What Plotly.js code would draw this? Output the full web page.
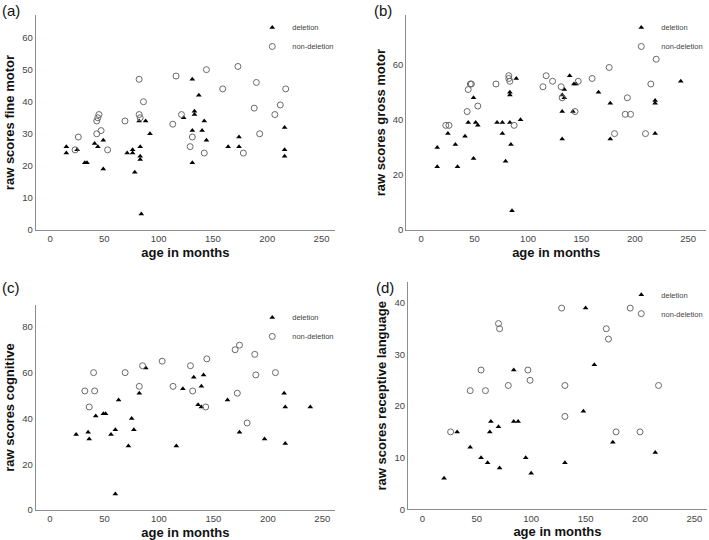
<!DOCTYPE html>
<html>
<head>
<meta charset="utf-8">
<script src="https://cdn.plot.ly/plotly-3.0.1.min.js"></script>
<style>
  html, body { margin: 0; padding: 0; background: #fff; }
  #chart { width: 709px; height: 540px; }
</style>
</head>
<body>
<div id="chart"></div>
<script>
// (a) fine motor
const fmDelAge   = [15, 15, 25, 32, 34, 41, 44, 49, 49, 71, 76, 76, 78, 82, 83, 83, 83, 84, 88, 92, 123, 131, 131, 131, 133, 133, 137, 140, 142, 144, 164, 174, 174, 216, 216, 216];
const fmDelScore = [26, 24, 25, 21, 21, 27, 26, 28, 19, 24, 25, 24, 18, 34, 26, 23, 22, 5, 34, 30, 35, 47, 31, 21, 37, 36, 42, 31, 34, 28, 26, 29, 26, 32, 25, 23];
const fmNonAge   = [23, 26, 43, 47, 43, 44, 45, 53, 69, 82, 82, 83, 86, 113, 116, 121, 129, 131, 142, 144, 159, 173, 178, 188, 190, 193, 207, 212, 217];
const fmNonScore = [25, 29, 30, 31, 34, 35, 36, 25, 34, 47, 36, 35, 40, 33, 48, 36, 26, 29, 24, 50, 44, 51, 24, 38, 46, 30, 36, 39, 44];

// (b) gross motor
const gmDelAge   = [15, 15, 25, 32, 34, 41, 44, 49, 49, 51, 53, 71, 76, 76, 79, 83, 83, 83, 84, 85, 89, 93, 132, 132, 132, 134, 134, 139, 143, 145, 142, 166, 177, 177, 219, 219, 219, 243];
const gmDelScore = [30, 23, 35, 31, 23, 34, 39, 48, 26, 39, 38, 39, 39, 35, 25, 50, 49, 39, 31, 7, 55, 40, 43, 49, 33, 51, 48, 56, 53, 53, 43, 50, 46, 33, 47, 46, 35, 54];
const gmNonAge   = [23, 26, 43, 44, 46, 47, 53, 70, 82, 82, 83, 87, 114, 117, 123, 131, 132, 144, 147, 160, 176, 181, 191, 196, 193, 210, 215, 220];
const gmNonScore = [38, 38, 43, 51, 53, 53, 45, 53, 56, 55, 54, 38, 52, 56, 54, 52, 48, 43, 54, 55, 59, 35, 42, 42, 48, 35, 53, 62];

// (c) cognitive
const cgDelAge   = [24, 35, 36, 42, 49, 51, 56, 60, 60, 63, 72, 75, 77, 82, 88, 116, 122, 132, 136, 139, 139, 141, 163, 174, 197, 215, 216, 216, 239];
const cgDelScore = [33, 34, 31, 41, 42, 42, 33, 35, 7, 48, 28, 40, 35, 51, 62, 28, 53, 58, 46, 54, 45, 59, 48, 34, 31, 51, 45, 29, 45];
const cgNonAge   = [32, 36, 40, 41, 69, 82, 85, 103, 113, 129, 131, 143, 144, 170, 172, 174, 181, 188, 189, 207];
const cgNonScore = [52, 45, 60, 52, 60, 54, 63, 65, 54, 63, 52, 45, 66, 70, 51, 72, 38, 68, 59, 60];

// (d) receptive language
const rlDelAge   = [20, 32, 44, 54, 60, 62, 63, 70, 71, 84, 84, 88, 95, 100, 131, 148, 150, 158, 175, 214];
const rlDelScore = [6, 15, 12, 10, 9, 15, 17, 16, 8, 17, 27, 17, 10, 7, 9, 19, 39, 28, 13, 11];
const rlNonAge   = [26, 44, 54, 58, 70, 71, 79, 97, 99, 128, 131, 131, 169, 171, 178, 191, 200, 217];
const rlNonScore = [15, 23, 27, 23, 36, 35, 24, 27, 25, 39, 24, 18, 35, 33, 15, 39, 15, 24];

const groupNames = ['deletion', 'non-deletion'];
const xTicks = [0, 50, 100, 150, 200, 250];

const panels = [
  { tag: '(a)', ytitle: 'raw scores fine motor', del: [fmDelAge, fmDelScore], non: [fmNonAge, fmNonScore],
    xdom: [0.0504, 0.4725], ydom: [0.574, 0.972], xr: [-13.2, 262.4], yr: [0, 67], dt: 10 },
  { tag: '(b)', ytitle: 'raw scores gross motor', del: [gmDelAge, gmDelScore], non: [gmNonAge, gmNonScore],
    xdom: [0.573, 0.996], ydom: [0.574, 0.972], xr: [-14, 266.8], yr: [0, 78], dt: 20 },
  { tag: '(c)', ytitle: 'raw scores cognitive', del: [cgDelAge, cgDelScore], non: [cgNonAge, cgNonScore],
    xdom: [0.0504, 0.4725], ydom: [0.0556, 0.435], xr: [-13.1, 261.7], yr: [0, 89.5], dt: 20 },
  { tag: '(d)', ytitle: 'raw scores receptive language', del: [rlDelAge, rlDelScore], non: [rlNonAge, rlNonScore],
    xdom: [0.5755, 0.997], ydom: [0.0569, 0.4772], xr: [-13.1, 261.4], yr: [0, 44], dt: 10 }
];

const titleFont = { size: 13, color: '#111', family: 'Liberation Sans, Arial, sans-serif', weight: 'bold' };

const data = [];
const layout = {
  width: 709, height: 540,
  margin: { l: 0, r: 0, t: 0, b: 0 },
  paper_bgcolor: '#fff', plot_bgcolor: '#fff',
  font: { family: 'Liberation Sans, Arial, sans-serif', color: '#333' },
  annotations: []
};

panels.forEach((p, i) => {
  const n = i === 0 ? '' : String(i + 1);
  const legName = 'legend' + n;

  data.push({
    x: p.del[0], y: p.del[1], xaxis: 'x' + n, yaxis: 'y' + n,
    type: 'scatter', mode: 'markers', name: groupNames[0], legend: legName,
    marker: { symbol: 'triangle-up', size: 5, color: '#000' },
    cliponaxis: false
  });
  data.push({
    x: p.non[0], y: p.non[1], xaxis: 'x' + n, yaxis: 'y' + n,
    type: 'scatter', mode: 'markers', name: groupNames[1], legend: legName,
    marker: { symbol: 'circle-open', size: 6, color: '#6a6a6a', line: { width: 1, color: '#6a6a6a' } },
    cliponaxis: false
  });

  layout['xaxis' + n] = {
    domain: p.xdom, anchor: 'y' + n, range: p.xr,
    tickvals: xTicks, ticks: '', showgrid: false, zeroline: false,
    showline: true, linecolor: '#8c8c8c', linewidth: 1,
    tickfont: { size: 9.5, color: '#444' },
    title: { text: 'age in months', font: titleFont, standoff: 4 }
  };
  layout['yaxis' + n] = {
    domain: p.ydom, anchor: 'x' + n, range: p.yr,
    dtick: p.dt, tick0: 0, ticks: '', showgrid: false, zeroline: false,
    showline: true, linecolor: '#8c8c8c', linewidth: 1,
    tickfont: { size: 9.5, color: '#444' },
    title: { text: p.ytitle, font: titleFont, standoff: 4 }
  };
  layout[legName] = {
    x: Math.min(0.999, p.xdom[1] + 0.006), y: p.ydom[1] + 0.004, xanchor: 'right', yanchor: 'top',
    bgcolor: 'rgba(0,0,0,0)', borderwidth: 0,
    font: { size: 7.5, color: '#444' }, tracegroupgap: 0
  };
  layout.annotations.push({
    text: p.tag, xref: 'paper', yref: 'paper', showarrow: false,
    x: p.xdom[0] - (i % 2 === 0 ? 0.05 : 0.048), y: i < 2 ? 1.0 : 0.487,
    xanchor: 'left', yanchor: 'top',
    font: { size: 15, color: '#111' }
  });
});

Plotly.newPlot('chart', data, layout, { staticPlot: true });
</script>
</body>
</html>
